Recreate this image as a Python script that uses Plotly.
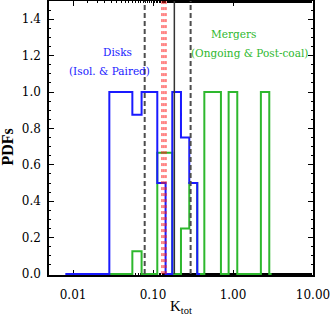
import numpy as np
import plotly.graph_objects as go

# ---- data ----
blue_edges = [0.008, 0.0284, 0.0551, 0.0719, 0.113, 0.1435, 0.174, 0.2234, 0.2838, 0.357, 0.386]
blue_values = [0, 1.0, 0.875, 1.0, 0.5, 0, 1.0, 0.75, 0.5, 0, 0]

green_edges = [0.0284, 0.0551, 0.0719, 0.113, 0.174, 0.2234, 0.2838, 0.357, 0.4377, 0.706, 0.881, 1.13, 2.23, 2.84, 3.04]
green_values = [0, 0.125, 0, 0.667, 0, 0.25, 0.5, 0, 1.0, 0, 1.0, 0, 1.0, 0, 0]

dashed_lines = [0.0786, 0.295]
solid_line = [0.1846]
red_lines = [0.1293, 0.1369, 0.145]

x_tickvals = [0.01, 0.1, 1, 10]
x_ticktext = ["0.01", "0.10", "1.00", "10.00"]
y_tickvals = [0.0, 0.2, 0.4, 0.6, 0.8, 1.0, 1.2, 1.4]
y_ticktext = ["0.0", "0.2", "0.4", "0.6", "0.8", "1.0", "1.2", "1.4"]

YMIN, YMAX = -0.005, 1.5

fig = go.Figure()

fig.add_trace(go.Scatter(x=green_edges, y=green_values, mode="lines",
                         line=dict(shape="hv", color="#2eb82e", width=2), showlegend=False))
fig.add_trace(go.Scatter(x=blue_edges, y=blue_values, mode="lines",
                         line=dict(shape="hv", color="#1a1aff", width=2), showlegend=False))

for v in red_lines:
    fig.add_trace(go.Scatter(x=[v, v], y=[0, YMAX], mode="lines",
                             line=dict(color="#ff1a1a", width=1, dash="dot"), showlegend=False))
for v in dashed_lines:
    fig.add_trace(go.Scatter(x=[v, v], y=[0, YMAX], mode="lines",
                             line=dict(color="#4d4d4d", width=2, dash="5px,3px"), showlegend=False))
for v in solid_line:
    fig.add_trace(go.Scatter(x=[v, v], y=[0, YMAX], mode="lines",
                             line=dict(color="#333333", width=1.5), showlegend=False))

L, R, T, B = 49, 313, 1, 275
W = R - L
H = B - T

def px(x, y):
    return (x - L) / W, (B - y) / H

ann_font = "DejaVu Serif"
anns = [
    ("Disks", 117.3, 52.3, "#1a1aff"),
    ("(Isol. & Paired)", 109, 71, "#1a1aff"),
    ("Mergers", 233.8, 34.3, "#2eb82e"),
    ("(Ongoing & Post-coal)", 249.5, 52.7, "#2eb82e"),
]
for text, x, y, c in anns:
    xp, yp = px(x, y)
    fig.add_annotation(x=xp, y=yp, xref="paper", yref="paper", text=text, showarrow=False,
                       font=dict(family=ann_font, size=10.5, color=c), xanchor="center", yanchor="middle")

# axis titles
xp, yp = px(180.5, 307)
fig.add_annotation(x=xp, y=yp, xref="paper", yref="paper", text="K<sub>tot</sub>", showarrow=False,
                   font=dict(family="Liberation Serif", size=15, color="black"),
                   xanchor="center", yanchor="middle")
xp, yp = px(7, 147.5)
fig.add_annotation(x=xp, y=yp, xref="paper", yref="paper", text="<b>PDFs</b>", showarrow=False,
                   textangle=-90, font=dict(family="Liberation Serif", size=16, color="black"),
                   xanchor="center", yanchor="middle")

axis_common = dict(showline=True, linecolor="black", linewidth=1.5, mirror="allticks",
                   ticks="inside", ticklen=5, tickcolor="black", tickwidth=1,
                   showgrid=False, zeroline=False, layer="below traces", automargin=False,
                   tickfont=dict(family="DejaVu Serif", size=12, color="black"))

fig.update_xaxes(type="log", range=[np.log10(0.005), 1], tickvals=x_tickvals, ticktext=x_ticktext,
                 minor=dict(ticks="inside", ticklen=2.5, tickcolor="black", showgrid=False),
                 ticklabelstandoff=8,
                 **axis_common)
fig.update_yaxes(range=[YMIN, YMAX], tickvals=y_tickvals, ticktext=y_ticktext,
                 minor=dict(ticks="inside", ticklen=2.5, tickcolor="black", dtick=0.05, tick0=0, showgrid=False),
                 ticklabelstandoff=4,
                 **axis_common)

fig.update_layout(width=332, height=317, margin=dict(l=L, r=332 - R, t=T, b=317 - B),
                  plot_bgcolor="white", paper_bgcolor="white", showlegend=False)

fig.write_html("out.html", config={"displayModeBar": False},
               post_script="document.body.style.margin='0';document.body.style.padding='0';")
